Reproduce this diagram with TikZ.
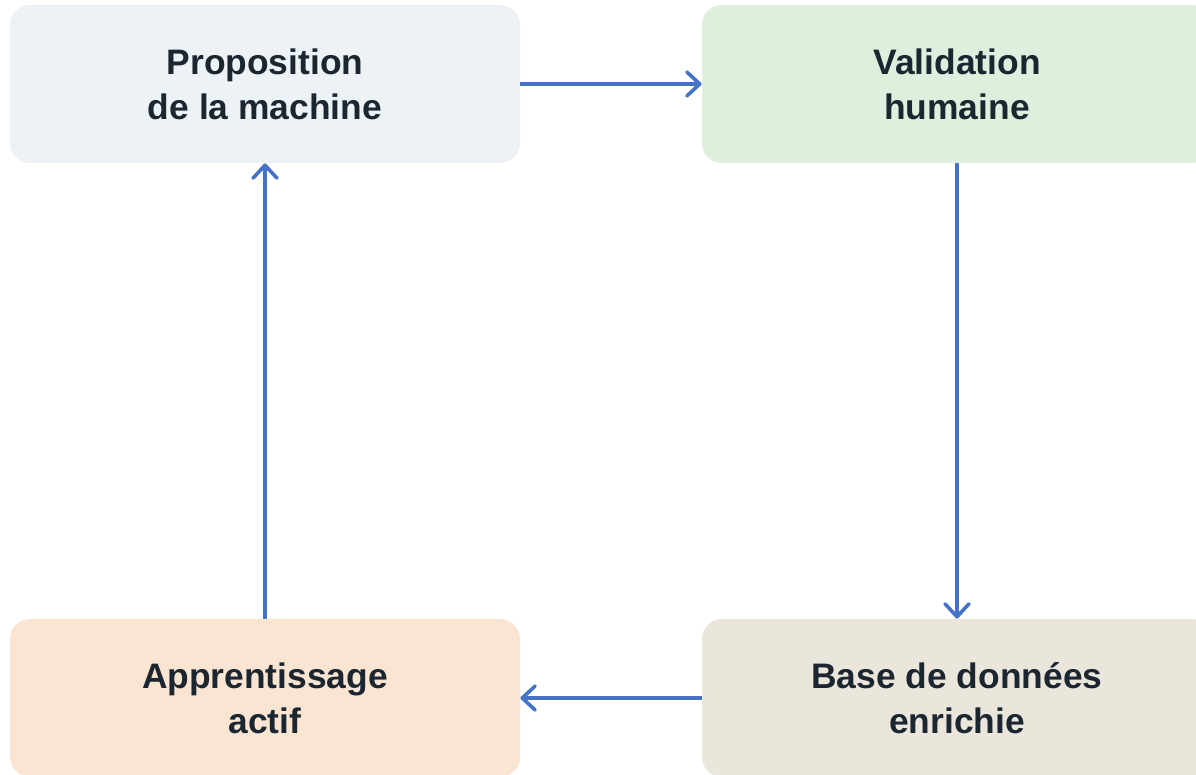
\documentclass[tikz,border=0pt]{standalone}
\usepackage{fontspec}
\setmainfont{Liberation Sans}
\usetikzlibrary{arrows.meta}

\definecolor{bleufleche}{HTML}{4472C4}
\definecolor{texte}{HTML}{1B2631}
\definecolor{fondprop}{HTML}{EDF2F7}
\definecolor{fondvalid}{HTML}{DFEEDD}
\definecolor{fondappr}{HTML}{FAE5D3}
\definecolor{fondbase}{HTML}{EAE6DC}

\tikzset{
  etape/.style={rounded corners=10pt, minimum width=255pt, minimum height=79pt,
    align=center, text=texte, font=\fontsize{17.7}{22.5}\selectfont\bfseries},
  fleche/.style={draw=bleufleche, line width=1.8pt,
    -{Straight Barb[length=6.5pt,width=12pt,line cap=round,line join=round]}}
}

\begin{document}
\begin{tikzpicture}[x=0.5pt,y=-0.5pt]
        \useasboundingbox (0,0) rectangle (1196,775);
        \clip (0,0) rectangle (1196,775);
        % Etapes du cycle
        \node[etape, fill=fondprop] (prop) at (265,84) {Proposition\\de la machine};
        \node[etape, fill=fondvalid] (valid) at (957,84) {Validation\\humaine};
        \node[etape, fill=fondbase] (base) at (957,698) {Base de données\\enrichie};
        \node[etape, fill=fondappr] (appr) at (265,698) {Apprentissage\\actif};
        % Fleches
        \draw[fleche] (prop.east) -- (valid.west);
        \draw[fleche] (valid.south) -- (base.north);
        \draw[fleche] (base.west) -- (appr.east);
        \draw[fleche] (appr.north) -- (prop.south);
    \end{tikzpicture}
\end{document}
